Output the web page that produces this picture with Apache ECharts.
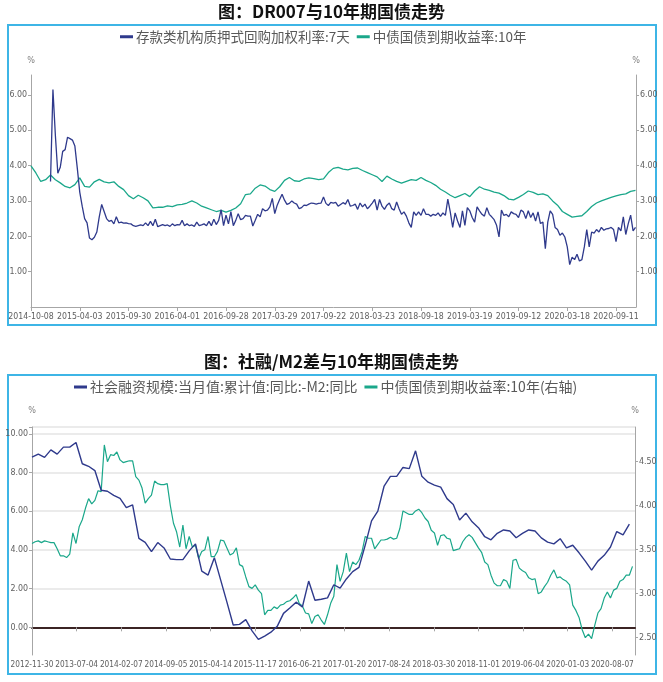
<!DOCTYPE html>
<html><head><meta charset="utf-8">
<script src="https://cdn.jsdelivr.net/npm/echarts@6/dist/echarts.min.js"></script>
<style>html,body{margin:0;padding:0;background:#fff}#c{width:663px;height:682px}</style>
</head><body><div id="c"></div>
<script>
// ---------- Chart 1: DR007 vs 10Y ----------
const title1 = '图：DR007与10年期国债走势';
const name1a = '存款类机构质押式回购加权利率:7天';
const name1b = '中债国债到期收益率:10年';
const xLabels1 = ['2014-10-08','2015-04-03','2015-09-30','2016-04-01','2016-09-28','2017-03-29','2017-09-22','2018-03-23','2018-09-18','2019-03-19','2019-09-12','2020-03-18','2020-09-11'];
const yTicks1 = [1, 2, 3, 4, 5, 6];
// DR007, sampled every 0.05 of a label interval starting at 0.40
const dr007Start = 0.40, dr007Step = 0.05;
const dr007 = [
 3.55,6.15,4.85,3.78,3.95,4.40,4.45,4.80,4.76,4.72,4.55,3.92,
 3.25,2.85,2.50,2.38,1.95,1.90,1.97,2.12,2.55,2.90,2.70,2.50,2.42,2.45,2.35,2.55,2.38,2.40,2.37,2.38,
 2.36,2.35,2.30,2.28,2.30,2.32,2.30,2.38,2.30,2.42,2.30,2.48,2.27,2.30,2.33,2.30,2.32,2.28,2.35,2.30,
 2.33,2.32,2.45,2.30,2.35,2.30,2.32,2.28,2.40,2.30,2.32,2.35,2.30,2.42,2.30,2.48,2.33,2.45,2.75,2.30,
 2.60,2.35,2.70,2.30,2.45,2.64,2.47,2.50,2.59,2.57,2.57,2.29,2.45,2.62,2.55,2.78,2.72,2.74,2.83,3.07,
 2.64,2.88,3.04,3.19,3.02,2.90,2.93,3.00,2.94,2.91,2.78,2.81,2.88,2.87,2.91,2.94,2.93,2.91,2.93,2.94,
 3.11,2.93,2.87,2.96,2.94,2.96,2.85,2.90,2.95,2.91,3.04,2.85,2.87,2.91,2.76,2.94,2.83,2.91,2.78,2.85,
 2.94,3.04,2.74,3.04,2.85,2.76,2.88,2.94,2.78,2.74,2.97,2.78,2.62,2.69,2.57,2.38,2.25,2.69,2.59,2.69,
 2.59,2.78,2.62,2.62,2.57,2.62,2.59,2.66,2.56,2.66,2.59,3.05,2.69,2.25,2.66,2.43,2.25,2.72,2.31,2.81,
 2.72,2.53,2.40,2.83,2.72,2.62,2.57,2.81,2.62,2.55,2.47,2.31,1.98,2.74,2.59,2.62,2.55,2.69,2.64,2.62,
 2.53,2.74,2.69,2.50,2.72,2.53,2.66,2.43,2.69,2.36,2.40,1.65,2.40,2.72,2.62,2.25,2.19,2.03,2.09,1.98,
 1.70,1.20,1.41,1.34,1.49,1.30,1.34,1.70,2.19,1.70,2.12,2.09,2.19,2.12,2.25,2.17,2.21,2.22,2.25,2.19,
 1.85,2.25,2.15,2.55,2.05,2.35,2.60,2.15,2.25
];
// 10Y yield, sampled every 0.1 of a label interval starting at 0
const yld1Step = 0.1;
const yld1 = [
 3.99,3.79,3.55,3.60,3.73,3.60,3.51,3.41,3.37,3.46,
 3.65,3.41,3.39,3.54,3.61,3.54,3.51,3.54,3.41,3.32,
 3.15,3.06,3.16,3.09,3.00,2.80,2.82,2.82,2.86,2.84,
 2.89,2.90,2.94,3.00,2.94,2.85,2.80,2.75,2.70,2.73,
 2.68,2.73,2.80,2.92,3.18,3.20,3.36,3.45,3.42,3.32,
 3.27,3.40,3.58,3.66,3.57,3.55,3.62,3.65,3.63,3.60,
 3.62,3.80,3.92,3.95,3.90,3.88,3.92,3.93,3.86,3.80,
 3.74,3.68,3.55,3.70,3.62,3.55,3.50,3.55,3.60,3.58,
 3.66,3.58,3.52,3.44,3.33,3.25,3.16,3.09,3.15,3.21,
 3.12,3.28,3.40,3.33,3.30,3.25,3.22,3.15,3.05,3.03,
 3.10,3.18,3.28,3.24,3.18,3.20,3.15,3.00,2.88,2.70,
 2.62,2.54,2.56,2.58,2.70,2.84,2.94,3.00,3.05,3.10,
 3.14,3.18,3.20,3.27,3.30
];

// ---------- Chart 2: TSF-M2 vs 10Y ----------
const title2 = '图：社融/M2差与10年期国债走势';
const name2a = '社会融资规模:当月值:累计值:同比:-M2:同比';
const name2b = '中债国债到期收益率:10年(右轴)';
const xLabels2 = ['2012-11-30','2013-07-04','2014-02-07','2014-09-05','2015-04-14','2015-11-17','2016-06-21','2017-01-20','2017-08-24','2018-03-30','2018-11-01','2019-06-04','2020-01-03','2020-08-07'];
const monthsPerLabel2 = 7.1;
const yTicks2L = [0, 2, 4, 6, 8, 10];
const yTicks2R = [2.5, 3.0, 3.5, 4.0, 4.5];
// monthly TSF growth minus M2 growth (left axis), month 0 = 2012-11
const tsfM2 = [
 8.79,8.95,8.78,9.17,8.95,9.31,9.31,9.55,8.45,8.32,
 8.10,7.08,7.03,6.82,6.66,6.18,6.33,4.60,4.39,3.91,
 4.38,4.10,3.53,3.50,3.50,3.95,4.31,2.90,2.70,3.60,
 2.45,1.30,0.12,0.15,0.40,-0.18,-0.62,-0.45,-0.25,0.05,
 0.72,1.00,1.30,1.05,2.39,1.40,1.45,1.52,2.20,2.02,
 2.50,2.88,3.10,4.25,5.50,6.00,7.30,7.80,7.80,8.26,
 8.20,9.12,7.80,7.50,7.35,7.24,6.65,6.35,5.55,5.90,
 5.45,5.15,4.68,4.52,4.86,5.03,4.98,4.63,4.85,5.03,
 4.98,4.62,4.40,4.31,4.58,4.10,4.24,3.85,3.42,2.95,
 3.42,3.72,4.15,4.95,4.78,5.33
];
// 10Y yield (right axis), every half month
const yld2Step = 0.5;
const yld2 = [
 3.57,3.59,3.60,3.58,3.60,3.59,3.58,3.58,3.51,3.43,3.43,3.41,3.45,3.69,3.57,3.76,3.84,3.97,4.08,4.02,
 4.06,4.17,4.16,4.69,4.50,4.58,4.57,4.61,4.52,4.49,4.50,4.51,4.51,4.33,4.29,4.20,4.03,4.08,4.12,4.28,
 4.25,4.24,4.24,4.25,4.00,3.80,3.70,3.53,3.78,3.51,3.65,3.53,3.55,3.40,3.48,3.50,3.65,3.42,3.42,3.48,
 3.61,3.60,3.52,3.44,3.46,
 3.52,3.33,3.31,3.19,3.08,3.06,3.10,3.04,3.00,2.76,
 2.81,2.81,2.85,2.83,2.87,2.88,2.91,2.92,2.95,2.99,
 2.89,2.86,2.78,2.77,2.66,2.74,2.76,2.70,2.65,2.76,
 2.89,2.97,3.33,3.14,3.25,3.46,3.25,3.36,3.33,3.38,
 3.48,3.65,3.63,3.63,3.51,3.56,3.61,3.61,3.62,3.64,
 3.62,3.63,3.74,3.94,3.92,3.90,3.90,3.94,3.96,3.92,
 3.86,3.82,3.72,3.69,
 3.55,3.66,3.67,3.63,3.62,3.49,3.50,3.51,3.59,3.64,
 3.67,3.64,3.58,3.52,3.47,3.36,3.33,3.21,3.12,3.09,
 3.09,3.16,3.14,3.06,3.38,3.39,3.29,3.26,3.24,3.18,
 3.16,3.17,3.00,3.02,3.08,3.13,3.21,3.27,3.18,3.19,
 3.16,3.14,3.10,2.87,2.81,2.73,2.59,2.50,2.54,2.49,
 2.64,2.78,2.83,2.95,3.02,2.95,3.04,3.06,3.14,3.16,
 3.21,3.21,3.31
];

// ---------- styling ----------
const BLUE = '#2f3a8c', GREEN = '#1aa78a', BORDER = '#3db5e6';
const AXC = '#a6a6a6', LBL = '#606060';
const NARROW = "'Liberation Sans Narrow','Arial Narrow','DejaVu Sans Condensed',sans-serif";
const CJK = "'Noto Sans CJK SC','Noto Sans',sans-serif";

const chart = echarts.init(document.getElementById('c'), null, {renderer: 'canvas'});

const yAxisCommon = (extra) => Object.assign({
  type: 'value', name: '%', nameLocation: 'end', nameGap: 10,
  nameTextStyle: {fontSize: 9, color: '#808080', fontFamily: NARROW},
  axisLine: {show: true, onZero: false, lineStyle: {color: AXC, width: 1}},
  axisTick: {show: true, length: 3, lineStyle: {color: AXC}},
  axisLabel: {fontSize: 8.8, color: LBL, fontFamily: NARROW, margin: 4, formatter: v => v.toFixed(2)},
  splitLine: {show: false}
}, extra);

const option = {
  animation: false,
  backgroundColor: '#fff',
  title: [
    {text: title1, left: 'center', top: 3, padding: 0,
     textStyle: {fontSize: 17, fontWeight: 'bold', color: '#111', fontFamily: CJK}},
    {text: title2, left: 'center', top: 353, padding: 0,
     textStyle: {fontSize: 17, fontWeight: 'bold', color: '#111', fontFamily: CJK}}
  ],
  legend: [
    {data: [name1a, name1b], left: 120, top: 30, padding: 0, itemGap: 7,
     icon: 'rect', itemWidth: 13, itemHeight: 3,
     textStyle: {fontSize: 13.5, color: '#595959', fontFamily: CJK, padding: [0, 0, 0, -2]}},
    {data: [name2a, name2b], left: 74, top: 380, padding: 0, itemGap: 7,
     icon: 'rect', itemWidth: 13, itemHeight: 3,
     textStyle: {fontSize: 14, color: '#595959', fontFamily: CJK, padding: [0, 0, 0, -2]}}
  ],
  grid: [
    {left: 31, right: 27, top: 75, bottom: 375},
    {left: 32, right: 28, top: 427, bottom: 27}
  ],
  xAxis: [
    {type: 'value', gridIndex: 0, min: 0, max: 12.41,
     axisLine: {show: true, lineStyle: {color: AXC}},
     axisTick: {show: true, length: 4, lineStyle: {color: AXC}, customValues: xLabels1.map((_, i) => i)},
     axisLabel: {fontSize: 8.7, color: LBL, fontFamily: NARROW, margin: 5,
                 customValues: xLabels1.map((_, i) => i), formatter: v => xLabels1[Math.round(v)] || ''},
     splitLine: {show: false}},
    {type: 'value', gridIndex: 1, min: 0, max: 95.9, position: 'bottom',
     axisLine: {show: true, onZero: true, lineStyle: {color: '#3b2424', width: 2}},
     axisTick: {show: true, length: 4, lineStyle: {color: AXC}, customValues: xLabels2.map((_, i) => i * monthsPerLabel2)},
     axisLabel: {show: false}, splitLine: {show: false}},
    {type: 'value', gridIndex: 1, min: 0, max: 95.9, position: 'bottom',
     axisLine: {show: false, onZero: false}, axisTick: {show: false},
     axisLabel: {fontSize: 8.2, color: LBL, fontFamily: NARROW, margin: 6,
                 customValues: xLabels2.map((_, i) => i * monthsPerLabel2),
                 formatter: v => xLabels2[Math.round(v / monthsPerLabel2)] || ''},
     splitLine: {show: false}}
  ],
  yAxis: [
    yAxisCommon({gridIndex: 0, position: 'left', min: 0, max: 6.56,
      axisTick: {show: true, length: 3, lineStyle: {color: AXC}, customValues: yTicks1},
      axisLabel: {fontSize: 8.8, color: LBL, fontFamily: NARROW, margin: 4, customValues: yTicks1, formatter: v => v.toFixed(2)}}),
    yAxisCommon({gridIndex: 0, position: 'right', min: 0, max: 6.56,
      axisTick: {show: true, length: 3, lineStyle: {color: AXC}, customValues: yTicks1},
      axisLabel: {fontSize: 8.8, color: LBL, fontFamily: NARROW, margin: 4, customValues: yTicks1, formatter: v => v.toFixed(2)}}),
    yAxisCommon({gridIndex: 1, position: 'left', min: -1.43, max: 10.35, nameGap: 12,
      axisTick: {show: true, length: 3, lineStyle: {color: AXC}, customValues: yTicks2L.concat([10.35])},
      axisLabel: {fontSize: 8.8, color: LBL, fontFamily: NARROW, margin: 4, customValues: yTicks2L, formatter: v => v.toFixed(2)},
      splitLine: {show: true, lineStyle: {color: '#e4e4e4', width: 1.5}}}),
    yAxisCommon({gridIndex: 1, position: 'right', min: 2.303, max: 4.894, nameGap: 12,
      axisTick: {show: true, length: 3, lineStyle: {color: AXC}, customValues: yTicks2R},
      axisLabel: {fontSize: 8.8, color: LBL, fontFamily: NARROW, margin: 4, customValues: yTicks2R, formatter: v => v.toFixed(2)}})
  ],
  series: [
    {name: name1b, type: 'line', xAxisIndex: 0, yAxisIndex: 0, showSymbol: false, z: 2,
     lineStyle: {color: GREEN, width: 1.3}, itemStyle: {color: GREEN},
     data: yld1.map((v, i) => [i * yld1Step, v])},
    {name: name1a, type: 'line', xAxisIndex: 0, yAxisIndex: 0, showSymbol: false, z: 3,
     lineStyle: {color: BLUE, width: 1.3}, itemStyle: {color: BLUE},
     data: dr007.map((v, i) => [dr007Start + i * dr007Step, v])},
    {name: name2a, type: 'line', xAxisIndex: 1, yAxisIndex: 2, showSymbol: false, z: 3,
     lineStyle: {color: BLUE, width: 1.4}, itemStyle: {color: BLUE},
     data: tsfM2.map((v, i) => [i, v])},
    {name: name2b, type: 'line', xAxisIndex: 1, yAxisIndex: 3, showSymbol: false, z: 2,
     lineStyle: {color: GREEN, width: 1.2}, itemStyle: {color: GREEN},
     data: yld2.map((v, i) => [i * yld2Step, v])}
  ],
  graphic: [
    {type: 'rect', shape: {x: 8, y: 25, width: 648, height: 300}, style: {fill: null, stroke: BORDER, lineWidth: 2}, silent: true},
    {type: 'rect', shape: {x: 8, y: 375, width: 648, height: 299}, style: {fill: null, stroke: BORDER, lineWidth: 2}, silent: true}
  ]
};
chart.setOption(option);
</script>
</body></html>
